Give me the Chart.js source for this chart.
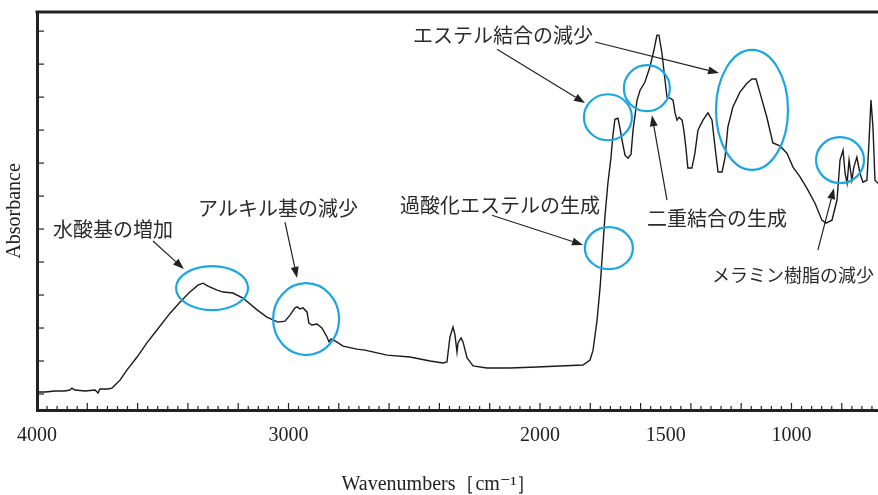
<!DOCTYPE html>
<html>
<head>
<meta charset="utf-8">
<script src="https://cdn.jsdelivr.net/npm/chart.js@4.4.0/dist/chart.umd.min.js"></script>
<style>
  html, body { margin: 0; padding: 0; background: #fff; }
  #wrap { width: 878px; height: 495px; }
</style>
</head>
<body>
<div id="wrap"><canvas id="irChart" width="878" height="495"></canvas></div>
<script>
// ==================== SPECTRUM DATA ====================
const wavenumbers = [
    4000, 3968, 3928, 3889, 3869, 3861, 3849, 3809, 3769, 3757, 3750, 3718, 3702,
    3670, 3642, 3602, 3563, 3523, 3471, 3431, 3392, 3360, 3340, 3320, 3284, 3260,
    3221, 3181, 3125, 3086, 3042, 3014, 2994, 2974, 2966, 2954, 2942, 2926, 2919,
    2907, 2887, 2867, 2847, 2839, 2831, 2815, 2783, 2728, 2696, 2608, 2517, 2437,
    2386, 2370, 2358, 2346, 2338, 2330, 2326, 2314, 2306, 2290, 2266, 2211, 2119,
    2012, 1921, 1829, 1801, 1789, 1773, 1761, 1742, 1730, 1718, 1710, 1702, 1690,
    1682, 1674, 1662, 1650, 1638, 1630, 1614, 1602, 1583, 1563, 1547, 1535, 1527,
    1515, 1503, 1495, 1483, 1471, 1463, 1455, 1447, 1435, 1428, 1420, 1412, 1396,
    1384, 1372, 1352, 1332, 1316, 1304, 1292, 1276, 1264, 1253, 1233, 1205, 1177,
    1157, 1141, 1125, 1098, 1074, 1046, 1018, 994, 966, 939, 907, 879, 863, 839,
    819, 807, 795, 787, 779, 771, 760, 752, 740, 728, 716, 700, 692, 684, 676, 668, 656
];
const absorbance = [
    0.06, 0.06, 0.09, 0.09, 0.12, 0.18, 0.12, 0.09, 0.12, 0.03, 0.15, 0.15, 0.18,
    0.42, 0.73, 1.12, 1.55, 1.94, 2.45, 2.79, 3.09, 3.30, 3.36, 3.27, 3.15, 3.09,
    3.06, 2.91, 2.55, 2.33, 2.18, 2.21, 2.39, 2.61, 2.64, 2.58, 2.61, 2.48, 2.15,
    2.09, 2.12, 2.00, 1.73, 1.58, 1.67, 1.61, 1.45, 1.36, 1.33, 1.18, 1.12, 1.00,
    0.94, 0.97, 1.73, 2.03, 1.79, 1.27, 1.55, 1.70, 1.58, 1.09, 0.85, 0.79, 0.79,
    0.82, 0.85, 0.88, 1.03, 1.33, 2.24, 3.24, 5.36, 6.39, 7.15, 7.85, 8.33, 8.36,
    8.06, 7.70, 7.24, 7.15, 7.27, 8.00, 8.91, 9.21, 9.45, 9.91, 10.42, 10.88, 10.88,
    10.33, 9.52, 9.00, 8.97, 8.91, 8.52, 8.30, 8.39, 8.30, 8.00, 7.48, 6.85, 6.85,
    7.30, 8.00, 8.30, 8.52, 8.30, 7.48, 6.73, 6.73, 7.18, 8.09, 8.70, 9.15, 9.42,
    9.55, 9.55, 9.12, 8.39, 7.61, 7.52, 7.30, 6.88, 6.58, 6.24, 5.79, 5.27, 5.18, 5.27,
    5.88, 7.09, 7.39, 6.70, 6.39, 7.09, 6.48, 6.88, 7.18, 6.70, 6.42, 6.48, 7.61, 8.91, 8.09, 6.48, 6.39
];

// axis ticks
const xTickLabels = [4000, 3000, 2000, 1500, 1000];
const xMajorStep = 200;
const xMinorStep = 40;
const yTickValues = [0, 1, 2, 3, 4, 5, 6, 7, 8, 9, 10, 11];

// ==================== ANNOTATIONS (data coordinates) ====================
const circles = [
    { w: 3304, a: 3.21, rx: 36, ry: 22 },
    { w: 2930, a: 2.27, rx: 33, ry: 36 },
    { w: 1726, a: 4.42, rx: 24, ry: 21 },
    { w: 1730, a: 8.39, rx: 24, ry: 23 },
    { w: 1575, a: 9.27, rx: 23, ry: 23 },
    { w: 1157, a: 8.61, rx: 36, ry: 60 },
    { w: 807,  a: 7.09, rx: 24, ry: 23 }
];
const arrows = [
    { from: [3539, 4.64], to: [3416, 3.79] },
    { from: [3014, 5.21], to: [2966, 3.52] },
    { from: [2191, 5.42], to: [1829, 4.52] },
    { from: [2171, 10.45], to: [1821, 8.82] },
    { from: [1781, 10.67], to: [1288, 9.73] },
    { from: [1495, 5.88], to: [1555, 8.45] },
    { from: [895, 4.36], to: [831, 6.24] }
];
const notes = [
    { text: '水酸基の増加', w: 3936, a: 5.00, size: 20 },
    { text: 'アルキル基の減少', w: 3360, a: 5.64, size: 20 },
    { text: '過酸化エステルの生成', w: 2557, a: 5.73, size: 20 },
    { text: 'エステル結合の減少', w: 2505, a: 10.88, size: 20 },
    { text: '二重結合の生成', w: 1575, a: 5.33, size: 20 },
    { text: 'メラミン樹脂の減少', w: 1316, a: 3.61, size: 18 }
];

const serif = '"Liberation Serif", "DejaVu Serif", serif';
const jpFont = '"Noto Sans CJK JP", sans-serif';

// Draws inner ticks, frame top, circles, arrows, notes and x title
const decorPlugin = {
    id: 'decor',
    afterDatasetsDraw(chart) {
        const { ctx, chartArea: ca, scales: { x, y } } = chart;
        ctx.save();

        // top frame line
        ctx.strokeStyle = '#222';
        ctx.lineWidth = 3;
        ctx.beginPath();
        ctx.moveTo(ca.left - 1.5, ca.top);
        ctx.lineTo(ca.right, ca.top);
        ctx.stroke();

        // x ticks (inside)
        ctx.lineWidth = 1.2;
        for (let w = 4000; w >= x.min; w -= xMinorStep) {
            const px = x.getPixelForValue(w);
            const len = (4000 - w) % xMajorStep === 0 ? 7 : 4;
            ctx.beginPath();
            ctx.moveTo(px, ca.bottom);
            ctx.lineTo(px, ca.bottom - len);
            ctx.stroke();
        }
        // y ticks (inside)
        yTickValues.forEach(v => {
            const py = y.getPixelForValue(v);
            ctx.beginPath();
            ctx.moveTo(ca.left, py);
            ctx.lineTo(ca.left + 7, py);
            ctx.stroke();
        });

        // circles
        ctx.strokeStyle = '#1ba6e2';
        ctx.lineWidth = 2.2;
        circles.forEach(c => {
            ctx.beginPath();
            ctx.ellipse(x.getPixelForValue(c.w), y.getPixelForValue(c.a), c.rx, c.ry, 0, 0, Math.PI * 2);
            ctx.stroke();
        });

        // arrows
        ctx.strokeStyle = '#222';
        ctx.fillStyle = '#222';
        ctx.lineWidth = 1.2;
        arrows.forEach(ar => {
            const x1 = x.getPixelForValue(ar.from[0]), y1 = y.getPixelForValue(ar.from[1]);
            const x2 = x.getPixelForValue(ar.to[0]), y2 = y.getPixelForValue(ar.to[1]);
            const ang = Math.atan2(y2 - y1, x2 - x1);
            const head = 11, half = 4;
            const bx = x2 - head * Math.cos(ang), by = y2 - head * Math.sin(ang);
            ctx.beginPath();
            ctx.moveTo(x1, y1);
            ctx.lineTo(bx, by);
            ctx.stroke();
            ctx.beginPath();
            ctx.moveTo(x2, y2);
            ctx.lineTo(bx + half * Math.sin(ang), by - half * Math.cos(ang));
            ctx.lineTo(bx - half * Math.sin(ang), by + half * Math.cos(ang));
            ctx.closePath();
            ctx.fill();
        });

        // notes
        ctx.fillStyle = '#2a2a2a';
        ctx.textAlign = 'left';
        ctx.textBaseline = 'middle';
        notes.forEach(n => {
            ctx.font = n.size + 'px ' + jpFont;
            ctx.fillText(n.text, x.getPixelForValue(n.w), y.getPixelForValue(n.a));
        });

        // x axis title, centred on the page
        ctx.fillStyle = '#222';
        ctx.textAlign = 'center';
        ctx.font = '20px ' + serif;
        ctx.fillText('Wavenumbers［cm⁻¹］', chart.width / 2, 485);

        ctx.restore();
    }
};

new Chart(document.getElementById('irChart'), {
    type: 'line',
    data: {
        datasets: [{
            data: wavenumbers.map((w, i) => ({ x: w, y: absorbance[i] })),
            borderColor: '#1a1a1a',
            borderWidth: 1.4,
            pointRadius: 0,
            tension: 0,
            fill: false
        }]
    },
    options: {
        responsive: false,
        animation: false,
        devicePixelRatio: 1,
        layout: { padding: { top: 12, left: 0, right: 0, bottom: 0 } },
        plugins: { legend: { display: false }, tooltip: { enabled: false } },
        scales: {
            x: {
                type: 'linear',
                reverse: true,
                min: 656,
                max: 4000,
                afterBuildTicks: s => { s.ticks = xTickLabels.map(v => ({ value: v })); },
                afterFit: s => { s.height = 85; },
                grid: { display: false, drawTicks: false },
                border: { display: true, color: '#222', width: 3 },
                ticks: {
                    color: '#222',
                    font: { family: serif, size: 20 },
                    padding: 14,
                    maxRotation: 0,
                    autoSkip: false,
                    callback: v => String(v)
                }
            },
            y: {
                min: -0.485,
                max: 11.58,
                afterFit: s => { s.width = 37; },
                grid: { display: false, drawTicks: false },
                border: { display: true, color: '#222', width: 3 },
                ticks: { display: false },
                title: {
                    display: true,
                    text: 'Absorbance',
                    color: '#222',
                    font: { family: serif, size: 20 },
                    padding: { top: 3, bottom: 0 }
                }
            }
        }
    },
    plugins: [decorPlugin]
});
</script>
</body>
</html>
